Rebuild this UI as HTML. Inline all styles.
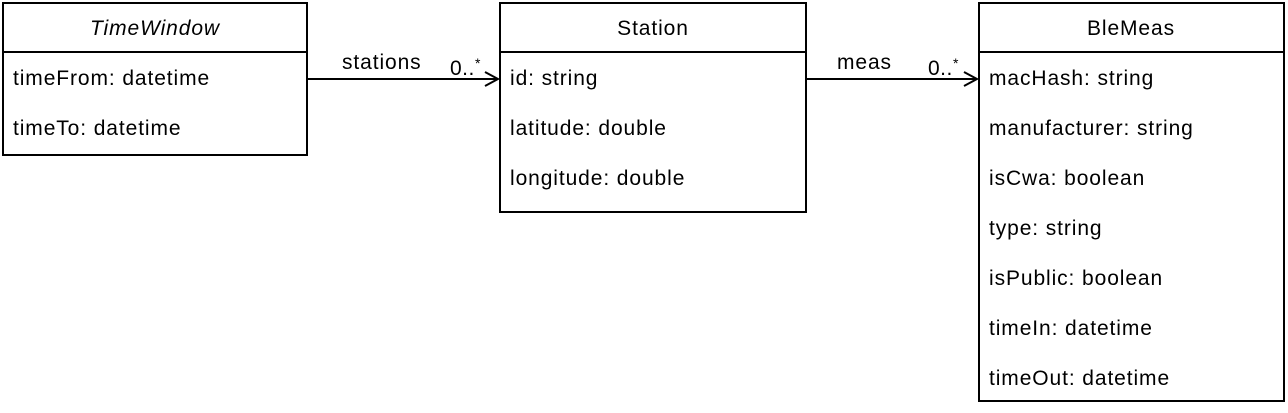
<!DOCTYPE html>
<html><head><style>body{margin:0;background:#fff}svg{display:block}</style></head><body>
<svg width="1288" height="413" xmlns="http://www.w3.org/2000/svg" font-family="Liberation Sans, Arial, sans-serif" font-size="21" letter-spacing="0.9" fill="#000">
<g fill="none" stroke="#000" stroke-width="2">
<rect x="3" y="3" width="304" height="152"/>
<line x1="3" y1="52" x2="307" y2="52"/>
<rect x="500" y="3" width="306" height="209"/>
<line x1="500" y1="52" x2="806" y2="52"/>
<rect x="979" y="3" width="305" height="398"/>
<line x1="979" y1="52" x2="1284" y2="52"/>
<line x1="308" y1="79" x2="498" y2="79"/>
<polyline points="485,72 498,79 485,86"/>
<line x1="807" y1="79" x2="977" y2="79"/>
<polyline points="964,72 977,79 964,86"/>
</g>
<text x="155" y="35" text-anchor="middle" font-style="italic">TimeWindow</text>
<text x="13" y="85">timeFrom: datetime</text>
<text x="13" y="135">timeTo: datetime</text>
<text x="653" y="35" text-anchor="middle">Station</text>
<text x="510" y="85">id: string</text>
<text x="510" y="135">latitude: double</text>
<text x="510" y="185">longitude: double</text>
<text x="1131" y="35" text-anchor="middle">BleMeas</text>
<text x="989" y="85">macHash: string</text>
<text x="989" y="135">manufacturer: string</text>
<text x="989" y="185">isCwa: boolean</text>
<text x="989" y="235">type: string</text>
<text x="989" y="285">isPublic: boolean</text>
<text x="989" y="335">timeIn: datetime</text>
<text x="989" y="385">timeOut: datetime</text>
<text x="342" y="69">stations</text>
<text x="450" y="75" letter-spacing="0.5">0..</text><text x="475" y="68" font-size="14">*</text>
<text x="837" y="69">meas</text>
<text x="928" y="75" letter-spacing="0.5">0..</text><text x="953" y="68" font-size="14">*</text>
</svg>
</body></html>
